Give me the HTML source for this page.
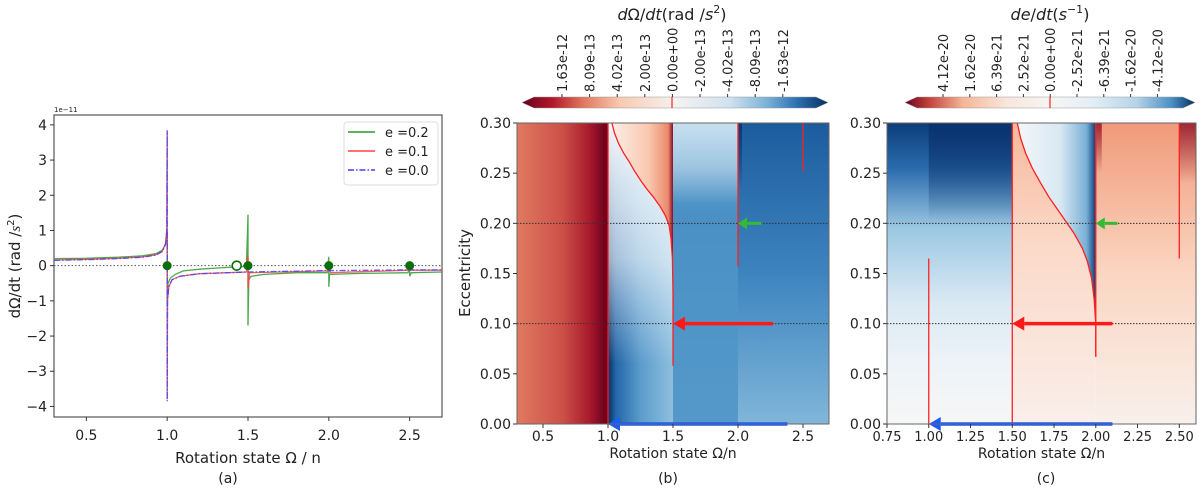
<!DOCTYPE html>
<html><head><meta charset="utf-8"><style>
html,body{margin:0;padding:0;background:#fff;width:1200px;height:496px;overflow:hidden}
svg text{font-family:"DejaVu Sans","Liberation Sans",sans-serif;fill:#222}
</style></head><body>
<svg id="fig" width="1200" height="496" viewBox="0 0 1200 496" xmlns="http://www.w3.org/2000/svg">
<defs>
<linearGradient id="cbar" x1="0" x2="1" y1="0" y2="0">
<stop offset="0" stop-color="#67001f"/><stop offset="0.1" stop-color="#b2182b"/><stop offset="0.2" stop-color="#e0785e"/><stop offset="0.32" stop-color="#f8c9b0"/><stop offset="0.5" stop-color="#f7f2f0"/><stop offset="0.68" stop-color="#cfe2ef"/><stop offset="0.8" stop-color="#7ab2d8"/><stop offset="0.9" stop-color="#2c6fb0"/><stop offset="1" stop-color="#053061"/></linearGradient>
<linearGradient id="cbar2" x1="0" x2="1" y1="0" y2="0">
<stop offset="0" stop-color="#67001f"/><stop offset="0.08" stop-color="#c0403a"/><stop offset="0.2" stop-color="#f6b596"/><stop offset="0.35" stop-color="#f9e6dc"/><stop offset="0.5" stop-color="#f7f5f3"/><stop offset="0.65" stop-color="#e3eef6"/><stop offset="0.8" stop-color="#b3d3e8"/><stop offset="0.92" stop-color="#4a8fc3"/><stop offset="1" stop-color="#053061"/></linearGradient>
<linearGradient id="b1" x1="0" x2="1"><stop offset="0" stop-color="#e07a60"/><stop offset="0.5" stop-color="#cc5048"/><stop offset="0.8" stop-color="#a8192c"/><stop offset="0.95" stop-color="#75041f"/><stop offset="1" stop-color="#67001f"/></linearGradient>
<linearGradient id="b2" x1="0" x2="1"><stop offset="0" stop-color="#082f62"/><stop offset="0.12" stop-color="#2466a8"/><stop offset="0.5" stop-color="#5b9ccc"/><stop offset="1" stop-color="#8fbfde"/></linearGradient>
<linearGradient id="bw" x1="0" x2="0" y1="0" y2="1"><stop offset="0" stop-color="#fff" stop-opacity="0.95"/><stop offset="0.45" stop-color="#fff" stop-opacity="0.6"/><stop offset="0.8" stop-color="#fff" stop-opacity="0"/></linearGradient>
<linearGradient id="b2r" x1="0" x2="1"><stop offset="0" stop-color="#fbeee8"/><stop offset="0.6" stop-color="#f9c8b0"/><stop offset="0.92" stop-color="#ec8a6c"/><stop offset="1" stop-color="#8a0a24"/></linearGradient>
<linearGradient id="b3" x1="0" x2="0" y1="0" y2="1"><stop offset="0" stop-color="#7fb6da"/><stop offset="0.3" stop-color="#4a90c4"/><stop offset="1" stop-color="#5499c9"/></linearGradient>
<linearGradient id="b4" x1="0" x2="0" y1="0" y2="1"><stop offset="0" stop-color="#1c5c9e"/><stop offset="0.5" stop-color="#3d84bf"/><stop offset="1" stop-color="#80b6d9"/></linearGradient>
<linearGradient id="c1" x1="0" x2="0" y1="0" y2="1"><stop offset="0" stop-color="#0c3d78"/><stop offset="0.15" stop-color="#2a6bad"/><stop offset="0.35" stop-color="#9cc8e2"/><stop offset="0.6" stop-color="#dbe9f3"/><stop offset="0.8" stop-color="#eef3f7"/><stop offset="1" stop-color="#f6f6f6"/></linearGradient>
<linearGradient id="fadeDark" x1="0" x2="0" y1="0" y2="1"><stop offset="0" stop-color="#08306b" stop-opacity="0.8"/><stop offset="0.25" stop-color="#08306b" stop-opacity="0.5"/><stop offset="0.55" stop-color="#08306b" stop-opacity="0"/></linearGradient>
<linearGradient id="fadeRed" x1="0" x2="0" y1="0" y2="1"><stop offset="0" stop-color="#8a0a24" stop-opacity="0.8"/><stop offset="0.5" stop-color="#8a0a24" stop-opacity="0"/></linearGradient>
<linearGradient id="c2" x1="0" x2="0" y1="0" y2="1"><stop offset="0" stop-color="#f6b89c"/><stop offset="0.4" stop-color="#fbd9c8"/><stop offset="1" stop-color="#f9efea"/></linearGradient>
<linearGradient id="c2b" x1="0" x2="1"><stop offset="0" stop-color="#f3f7fa"/><stop offset="0.55" stop-color="#d8e8f2"/><stop offset="0.88" stop-color="#7ab0d6"/><stop offset="1" stop-color="#0c3d78"/></linearGradient>
<linearGradient id="c3" x1="0" x2="0" y1="0" y2="1"><stop offset="0" stop-color="#f09a7a"/><stop offset="0.5" stop-color="#fbd6c2"/><stop offset="1" stop-color="#f8f0ec"/></linearGradient>
</defs>
<g id="layer"></g>
</svg>
<script>
// ---------- data: panel (a) ----------
const xTicksA = [0.5, 1.0, 1.5, 2.0, 2.5];
const yTicksA = [4, 3, 2, 1, 0, -1, -2, -3, -4];
const legendLabels = ["e =0.2", "e =0.1", "e =0.0"];
const xE0 = [0.3,0.5,0.7,0.85,0.93,0.97,0.99,0.998,1.0,1.0,1.002,1.01,1.03,1.08,1.2,1.5,2.0,2.5,2.7];
const yE0 = [0.15,0.17,0.2,0.24,0.3,0.4,0.6,1.0,3.85,-3.85,-1.0,-0.6,-0.4,-0.3,-0.23,-0.18,-0.14,-0.12,-0.12];
const xE1 = [0.3,0.5,0.7,0.85,0.93,0.97,0.99,0.998,1.0,1.0,1.002,1.01,1.03,1.08,1.2,1.49,1.5,1.5,1.51,2.0,2.0,2.01,2.5,2.7];
const yE1 = [0.16,0.18,0.21,0.25,0.31,0.41,0.62,1.0,3.8,-3.8,-1.0,-0.6,-0.4,-0.3,-0.23,-0.18,0.3,-0.65,-0.2,-0.15,0.05,-0.2,-0.13,-0.13];
const xE2 = [0.3,0.5,0.7,0.85,0.93,0.97,0.99,1.0,1.0,1.005,1.02,1.05,1.1,1.2,1.3,1.4,1.49,1.5,1.5,1.505,1.52,1.6,1.8,1.99,2.0,2.0,2.005,2.2,2.49,2.5,2.5,2.51,2.7];
const yE2 = [0.2,0.21,0.24,0.28,0.34,0.44,0.6,1.0,-1.0,-0.5,-0.35,-0.25,-0.15,-0.1,-0.07,-0.04,-0.02,1.45,-1.7,-0.4,-0.3,-0.25,-0.2,-0.2,0.25,-0.6,-0.25,-0.22,-0.2,0.05,-0.3,-0.2,-0.18];
const fixedX = [1.0, 1.5, 2.0, 2.5];
const unstableX = [1.43];
// ---------- data: panel (b) ----------
const xTicksB = [0.5, 1.0, 1.5, 2.0, 2.5];
const yTicksE = [0.00, 0.05, 0.10, 0.15, 0.20, 0.25, 0.30];
const cbTicksB = ["1.63e-12","8.09e-13","4.02e-13","2.00e-13","0.00e+00","-2.00e-13","-4.02e-13","-8.09e-13","-1.63e-12"];
const curveBx = [1.03,1.05,1.08,1.12,1.16,1.2,1.25,1.3,1.35,1.4,1.44,1.47,1.485,1.495,1.5,1.5];
const curveBy = [0.30,0.29,0.28,0.27,0.262,0.253,0.243,0.234,0.226,0.217,0.208,0.198,0.185,0.165,0.13,0.058];
const vlinesBx = [1.0, 2.0, 2.5];
const vlinesBlo = [0.0, 0.157, 0.252];
const arrowsBfrom = [2.27, 2.18, 2.38];
const arrowsBto = [1.5, 2.0, 1.0];
const arrowsBe = [0.1, 0.2, 0.0];
// ---------- data: panel (c) ----------
const xTicksC = [0.75, 1.00, 1.25, 1.50, 1.75, 2.00, 2.25, 2.50];
const cbTicksC = ["4.12e-20","1.62e-20","6.39e-21","2.52e-21","0.00e+00","-2.52e-21","-6.39e-21","-1.62e-20","-4.12e-20"];
const curveCx = [1.53,1.55,1.58,1.62,1.67,1.72,1.77,1.82,1.87,1.92,1.95,1.975,1.99,2.0,2.0];
const curveCy = [0.30,0.285,0.27,0.255,0.24,0.226,0.214,0.202,0.19,0.175,0.162,0.145,0.125,0.1,0.067];
const vlinesCx = [1.0, 1.5, 2.0, 2.5];
const vlinesClo = [0.0, 0.0, 0.067, 0.165];
const vlinesChi = [0.165, 0.30, 0.30, 0.30];
const arrowsCfrom = [2.1, 2.13, 2.1];
const arrowsCto = [1.5, 2.0, 1.0];
const arrowsCe = [0.1, 0.2, 0.0];
const arrowColors = ["#ff1a1a", "#33bb33", "#1a5cff"];

const NS = "http://www.w3.org/2000/svg";
const layer = document.getElementById("layer");
function mk(tag, attrs, parent) {
  const e = document.createElementNS(NS, tag);
  for (const k in attrs) e.setAttribute(k, attrs[k]);
  (parent || layer).appendChild(e);
  return e;
}
function txt(s, attrs, parent) { const t = mk("text", attrs, parent); t.textContent = s; return t; }
function lin(d0, d1, r0, r1) { return v => r0 + (v - d0) * (r1 - r0) / (d1 - d0); }

// ===== Panel A =====
const ax = lin(0.3, 2.7, 54, 442), ay = lin(4.28, -4.3, 115, 417);
let g = mk("g", {});


let e = mk("rect", {x:54, y:115, width:388, height:302, fill:"#fff", stroke:"#333", "stroke-width":1}, g);


e = mk("line", {x1:54, x2:442, y1:ay(0), y2:ay(0), stroke:"#555", "stroke-dasharray":"1.5,2", "stroke-width":1}, g);


xTicksA.forEach(v => {
  mk("line", {x1:ax(v), x2:ax(v), y1:417, y2:421, stroke:"#333"}, g);
  const t = txt(v.toFixed(1), {x:ax(v), y:440, "font-size":14, "text-anchor":"middle"}, g);
  
  
});
yTicksA.forEach(v => {
  mk("line", {x1:50, x2:54, y1:ay(v), y2:ay(v), stroke:"#333"}, g);
  const t = txt(v < 0 ? "\u2212" + (-v) : String(v), {x:47, y:ay(v) + 5, "font-size":14, "text-anchor":"end"}, g);
  
  
});
e = txt("1e\u221211", {x:54, y:112, "font-size":7}, g);


e = txt("Rotation state \u03A9 / n", {x:248, y:463, "font-size":15, "text-anchor":"middle"}, g);


e = mk("text", {transform:"translate(20,266) rotate(-90)", "font-size":15, "text-anchor":"middle"}, g);
e.innerHTML = 'd\u03A9/dt (rad /<tspan font-style="italic" font-family="Liberation Serif,serif">s</tspan><tspan font-size="10" dy="-6">2</tspan><tspan dy="6">)</tspan>';


function series(xs, ys, color, dash, name) {
  const p = mk("polyline", {points: xs.map((x, i) => ax(x).toFixed(1) + "," + ay(ys[i]).toFixed(1)).join(" "), fill:"none", stroke:color, "stroke-width":1.3, "stroke-dasharray":dash || "none", opacity:0.85}, g);
  
  
}
series(xE2, yE2, "#2a9a2a", null, "series-e0.2");
series(xE1, yE1, "#ff4040", null, "series-e0.1");
series(xE0, yE0, "#4040ff", "6,2,1.5,2", "series-e0.0");
fixedX.forEach(v => {
  const c = mk("circle", {cx:ax(v), cy:ay(0), r:4.5, fill:"#0a6e0a"}, g);
  
  
});
unstableX.forEach(v => {
  const c = mk("circle", {cx:ax(v), cy:ay(0), r:4.5, fill:"#fff", stroke:"#0a6e0a", "stroke-width":1.6}, g);
  
  
});
let lg = mk("g", {}, g);


mk("rect", {x:344, y:122, width:94, height:63, rx:3, fill:"#fff", stroke:"#ddd"}, lg);
const lgCol = ["#2a9a2a", "#ff4040", "#4040ff"], lgDash = ["none", "none", "6,2,1.5,2"];
legendLabels.forEach((s, i) => {
  const yy = 132 + i * 19;
  const ent = mk("g", {}, lg);
  
  
  mk("line", {x1:348, x2:375, y1:yy, y2:yy, stroke:lgCol[i], "stroke-width":1.5, "stroke-dasharray":lgDash[i]}, ent);
  txt(s, {x:385, y:yy + 5, "font-size":13}, ent);
});
e = txt("(a)", {x:228, y:483, "font-size":14, "text-anchor":"middle"});



// ===== Heatmap panel helper =====
function heatPanel(opt) {
  const X = lin(opt.x0, opt.x1, opt.L, opt.R), Y = lin(0, 0.3, 424, 123);
  const pg = mk("g", {});
  
  
  opt.paint(X, Y, pg);
  const cv = mk("polyline", {points: opt.cx.map((x, i) => X(x).toFixed(1) + "," + Y(opt.cy[i]).toFixed(1)).join(" "), fill:"none", stroke:"#ff2020", "stroke-width":1.3}, pg);
  
  
  opt.vx.forEach((v, i) => {
    const l = mk("line", {x1:X(v), x2:X(v), y1:Y(opt.vlo[i]), y2:Y(opt.vhi ? opt.vhi[i] : 0.3), stroke:"#ff2020", "stroke-width":1.3}, pg);
    
    
  });
  [0.1, 0.2].forEach(v => {
    const l = mk("line", {x1:opt.L, x2:opt.R, y1:Y(v), y2:Y(v), stroke:"#333", "stroke-width":1, "stroke-dasharray":"1.5,1.5"}, pg);
    
    
  });
  opt.af.forEach((f, i) => {
    const yy = Y(opt.ae[i]), xt = X(opt.at[i]), xf = X(f);
    const ag = mk("g", {}, pg);
    
    
    const w = i === 1 ? 3 : 3.5, hl = i === 1 ? 9 : 12, hw = i === 1 ? 6 : 7;
    mk("line", {x1:xf, x2:xt + hl, y1:yy, y2:yy, stroke:arrowColors[i], "stroke-width":w}, ag);
    mk("polygon", {points:`${xt},${yy} ${xt + hl},${yy - hw} ${xt + hl},${yy + hw}`, fill:arrowColors[i]}, ag);
  });
  mk("rect", {x:opt.L, y:123, width:opt.R - opt.L, height:301, fill:"none", stroke:"#666"}, pg);
  opt.xt.forEach(v => {
    mk("line", {x1:X(v), x2:X(v), y1:424, y2:428, stroke:"#333"}, pg);
    const t = txt(opt.xfmt(v), {x:X(v), y:441, "font-size":opt.fs, "text-anchor":"middle"}, pg);
    
    
  });
  yTicksE.forEach(v => {
    mk("line", {x1:opt.L - 4, x2:opt.L, y1:Y(v), y2:Y(v), stroke:"#333"}, pg);
    const t = txt(v.toFixed(2), {x:opt.L - 6, y:Y(v) + 5, "font-size":14, "text-anchor":"end"}, pg);
    
    
  });
  let t = txt("Rotation state \u03A9/n", {x:(opt.L + opt.R) / 2, y:458, "font-size":14, "text-anchor":"middle"}, pg);
  
  
  if (opt.ylab) {
    t = txt("Eccentricity", {transform:`translate(${opt.L - 47},273) rotate(-90)`, "font-size":15, "text-anchor":"middle"}, pg);
    
    
  }
  const cb = mk("g", {}, pg);
  
  
  const a = opt.cbL, b = opt.cbR, tw = 12;
  mk("polygon", {points:`${a},102.5 ${a + tw},97 ${b - tw},97 ${b},102.5 ${b - tw},108 ${a + tw},108`, fill:`url(#${opt.cbg})`, stroke:"#999", "stroke-width":0.5}, cb);
  mk("line", {x1:opt.cbMid, x2:opt.cbMid, y1:97, y2:108, stroke:"#ff2020", "stroke-width":1.2}, cb);
  opt.cbt.forEach((s, i) => {
    const xx = opt.cbx0 + i * opt.cbdx;
    mk("line", {x1:xx, x2:xx, y1:94, y2:97, stroke:"#333"}, cb);
    const tl = txt(s, {transform:`translate(${xx + 5},92) rotate(-90)`, "font-size":13}, cb);
    
    
  });
  t = mk("text", {x:opt.cbMid, y:20, "font-size":16, "text-anchor":"middle", "font-family":"Liberation Serif,serif"}, pg);
  t.innerHTML = opt.title;
  
  
  t = txt(opt.lab, {x:opt.cbMid - 4, y:483, "font-size":14, "text-anchor":"middle"}, pg);
  
  
  return {X, Y, pg};
}

// Panel B
heatPanel({name:"panel-b", x0:0.3, x1:2.7, L:517, R:829, fs:14, xt:xTicksB, xfmt:v => v.toFixed(1), ylab:true,
  cx:curveBx, cy:curveBy, vx:vlinesBx, vlo:vlinesBlo, af:arrowsBfrom, at:arrowsBto, ae:arrowsBe,
  cbL:522, cbR:828, cbMid:672, cbx0:562, cbdx:27.6, cbt:cbTicksB, cbg:"cbar", lab:"(b)",
  title:'<tspan font-style="italic">d</tspan>\u03A9/<tspan font-style="italic">dt</tspan>(rad /<tspan font-style="italic">s</tspan><tspan font-size="11" dy="-7">2</tspan><tspan dy="7">)</tspan>',
  paint:(X, Y, pg) => {
    mk("rect", {x:X(0.3), y:123, width:X(1.0) - X(0.3), height:301, fill:"url(#b1)"}, pg);
    mk("rect", {x:X(1.0), y:123, width:X(1.5) - X(1.0), height:301, fill:"url(#b2)"}, pg);
    mk("rect", {x:X(1.0), y:123, width:X(1.5) - X(1.0), height:301, fill:"url(#bw)"}, pg);
    const pts = curveBx.map((x, i) => X(x) + "," + Y(curveBy[i])).join(" ");
    mk("polygon", {points:pts + " " + X(1.5) + "," + Y(0.3), fill:"url(#b2r)"}, pg);
    mk("rect", {x:X(1.5), y:123, width:X(2.0) - X(1.5), height:301, fill:"url(#b3)"}, pg);
    mk("rect", {x:X(1.5), y:123, width:X(2.0) - X(1.5), height:100, fill:"url(#bw)", opacity:0.6}, pg);
    mk("rect", {x:X(2.0), y:123, width:X(2.7) - X(2.0), height:301, fill:"url(#b4)"}, pg);
    mk("rect", {x:X(2.0), y:123, width:4, height:120, fill:"url(#fadeDark)"}, pg);
  }});

// Panel C
heatPanel({name:"panel-c", x0:0.75, x1:2.6, L:887, R:1196, fs:13, xt:xTicksC, xfmt:v => v.toFixed(2),
  cx:curveCx, cy:curveCy, vx:vlinesCx, vlo:vlinesClo, vhi:vlinesChi, af:arrowsCfrom, at:arrowsCto, ae:arrowsCe,
  cbL:905, cbR:1195, cbMid:1050, cbx0:943, cbdx:26.8, cbt:cbTicksC, cbg:"cbar2", lab:"(c)",
  title:'<tspan font-style="italic">de</tspan>/<tspan font-style="italic">dt</tspan>(<tspan font-style="italic">s</tspan><tspan font-size="11" dy="-7">\u22121</tspan><tspan dy="7">)</tspan>',
  paint:(X, Y, pg) => {
    mk("rect", {x:X(0.75), y:123, width:X(1.5) - X(0.75), height:301, fill:"url(#c1)"}, pg);
    mk("rect", {x:X(1.0), y:123, width:X(1.5) - X(1.0), height:180, fill:"url(#fadeDark)"}, pg);
    mk("rect", {x:X(1.5), y:123, width:X(2.0) - X(1.5), height:301, fill:"url(#c2)"}, pg);
    const pts = curveCx.slice(0, 14).map((x, i) => X(x) + "," + Y(curveCy[i])).join(" ");
    mk("polygon", {points:pts + " " + X(2.0) + "," + Y(0.3), fill:"url(#c2b)"}, pg);
    mk("rect", {x:X(2.0), y:123, width:X(2.6) - X(2.0), height:301, fill:"url(#c3)"}, pg);
    mk("rect", {x:X(2.0), y:123, width:6, height:100, fill:"url(#fadeRed)"}, pg);
    mk("rect", {x:X(2.5), y:123, width:X(2.6) - X(2.5), height:120, fill:"url(#fadeRed)"}, pg);
  }});
</script>
</body></html>
